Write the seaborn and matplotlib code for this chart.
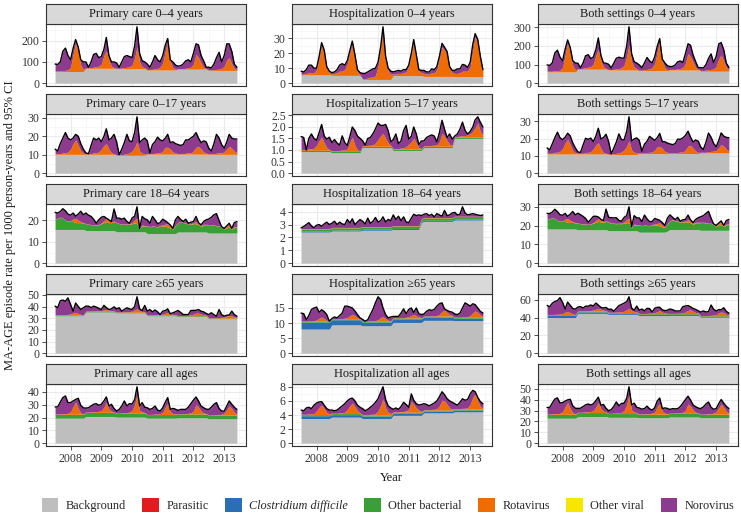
import numpy as np
import pandas as pd
import seaborn as sns
import matplotlib.pyplot as plt
import matplotlib.dates as mdates
from matplotlib.patches import Patch
from matplotlib.ticker import FixedLocator, MultipleLocator

# monthly rates, July 2007 - June 2013 (cumulative upper edge of each stacked band)
months = pd.date_range("2007-07-01", periods=72, freq="MS")

# --- Primary care 0-4
pc04_bg = [55,55,55,55,55,55,55,55,55,55,55,55, 70,70,70,70,70,70,70,70,70,70,70,70, 68,68,68,68,68,68,68,68,68,68,68,68,
           62,62,62,62,62,62,62,62,62,62,62,62, 66,66,66,66,66,66,66,66,66,66,66,66, 60,60,60,60,60,60,60,60,60,60,60,60]
pc04_ro = [60,58,58,60,60,63,75,135,190,155,85,65, 72,72,73,75,78,80,90,130,155,110,80,73, 70,70,71,73,75,78,85,120,170,100,78,72,
           64,64,65,68,70,75,95,150,200,100,75,65, 68,68,68,70,72,75,90,135,120,95,75,68, 62,62,63,65,66,68,80,110,120,90,70,63]
pc04_tot = [90,88,100,150,165,130,110,165,205,170,110,100, 100,75,100,135,140,120,125,160,215,130,100,100, 95,75,100,125,130,125,120,175,265,140,105,100,
            90,75,100,130,110,100,130,180,210,110,100,85, 80,82,90,105,110,100,140,185,180,130,105,75, 75,72,90,120,145,100,130,185,185,150,90,75]

# --- Hospitalization 0-4
h04_bg = [5.5,5.5,5.5,5.5,5.5,5.5,5.5,5.5,5.5,5.5,5.5,5.5, 5.2,5.2,5.2,5.2,5.2,5.2,5.2,5.2,5.2,5.2,5.2,5.2, 2.5,2.5,2.5,2.5,2.5,2.5,2.5,2.5,2.5,2.5,2.5,2.5,
          5,5,5,5,5,5,5,5,5,5,5,5, 4.5,4.5,4.5,4.5,4.5,4.5,4.5,4.5,4.5,4.5,4.5,4.5, 4.3,4.3,4.3,4.3,4.3,4.3,4.3,4.3,4.3,4.3,4.3,4.3]
h04_ro = [6,6,6.5,7,7,7,9,16,25,21,10,7, 6,6.5,7,8,8,9,13,20,26,17,8,5.5, 3,3,3.5,4,4,5,11,22,34,16,8,6,
          6,6,6.5,6.5,7,7.5,11,19,27,18,8,7, 6.5,6,6,7,7,9,16,24,22,19,10,7, 6.5,6.5,7,8,8,8,11,22,31,27,16,8]
h04_tot = [8,7.5,9,12,12,10,10,18,27,22,11,8, 7,7.5,9,12,13,12,15,22,28,19,9,7, 6.5,6.5,7.5,8.5,9.5,10,14,24,37.5,18,10,8,
           7.5,8,8.5,8,9,9,12,20,29,19,9,8.5, 8.5,7.5,7.5,9.5,9,11,18,26.5,24,21,11,8.5, 8.5,9.5,9.5,12.5,12,10.5,14,26,33,29,18,9]

# --- Both settings 0-4
b04_bg = [60.5,60.5,60.5,60.5,60.5,60.5,60.5,60.5,60.5,60.5,60.5,60.5, 75.2,75.2,75.2,75.2,75.2,75.2,75.2,75.2,75.2,75.2,75.2,75.2,
          70.5,70.5,70.5,70.5,70.5,70.5,70.5,70.5,70.5,70.5,70.5,70.5, 67,67,67,67,67,67,67,67,67,67,67,67,
          70.5,70.5,70.5,70.5,70.5,70.5,70.5,70.5,70.5,70.5,70.5,70.5, 64.3,64.3,64.3,64.3,64.3,64.3,64.3,64.3,64.3,64.3,64.3,64.3]
b04_ro = [66,64,64.5,67,67,70,84,151,215,176,95,72, 78,78.5,80,83,86,89,103,150,181,127,88,78.5, 73,73,74.5,77,79,83,96,142,204,116,86,78,
          70,70,71.5,74.5,77,82.5,106,169,227,118,83,72, 74.5,74,74,77,79,84,106,159,142,114,85,75, 68.5,68.5,70,73,74,76,91,132,151,117,86,71]
b04_tot = [98,95.5,109,162,177,140,120,183,232,192,121,108, 107,82.5,109,147,153,132,140,182,243,149,109,107,
           101.5,81.5,107.5,133.5,139.5,135,134,199,302.5,158,115,108, 97.5,83,108.5,138,119,109,142,200,239,129,109,93.5,
           88.5,89.5,97.5,114.5,119,111,158,211.5,204,151,116,83.5, 83.5,81.5,99.5,132.5,157,110.5,144,211,218,179,108,84]

# --- Primary care 0-17
pc017_bg = [10.2,10.2,10.2,10.2,10.2,10.2,10.2,10.2,10.2,10.2,10.2,10.2, 10.2,10.2,10.2,10.2,10.2,10.2,10.2,10.2,10.2,10.2,10.2,10.2,
            9.7,9.7,9.7,9.7,9.7,9.7,9.7,9.7,9.7,9.7,9.7,9.7, 10.3,10.3,10.3,10.3,10.3,10.3,10.3,10.3,10.3,10.3,10.3,10.3,
            10.3,10.3,10.3,10.3,10.3,10.3,10.3,10.3,10.3,10.3,10.3,10.3, 10.2,10.2,10.2,10.2,10.2,10.2,10.2,10.2,10.2,10.2,10.2,10.2]
pc017_ro = [10.5,10.5,10.5,11,11,11.5,13,16,18,15,12,10.8, 10.5,10.5,10.5,11,11,11.5,13,15,16,13,11,10.5, 10,10,10,10.3,10.5,11,12,14,17,12,10.8,10.5,
            10.5,10.5,10.5,10.8,11,11,12,14,14,13,11.5,11, 10.5,10.5,10.5,10.8,11,11,12,14,14.5,13,11.5,10.8, 10.5,10.5,10.5,10.8,11,11,11.5,13,14.5,13.5,12,11]
pc017_tot = [13,12,16,19,22,19,18,19,21,20,16,13, 11,10.5,15,19,18,19,17,20,24,18,19,21, 17,10,13,16.5,21,17.5,17,22,30.5,16.5,18,19,
             17.5,11,15.5,17,19.5,18,17.5,19,21,16.5,17,16, 15.5,15,15.5,18,18,19,20,22,19,16.5,17.5,17, 13.5,12,16,21,19,15.5,13.5,17,21,19,18.5,18.5]

# --- Hospitalization 5-17
h517_bg = [0.93,0.93,0.93,0.93,0.93,0.93,0.93,0.93,0.93,0.93,0.93,0.93, 0.88,0.88,0.88,0.88,0.88,0.88,0.88,0.88,0.88,0.88,0.88,0.88,
           1.1,1.1,1.1,1.1,1.1,1.1,1.1,1.1,1.1,1.1,1.1,1.1, 0.98,0.98,0.98,0.98,0.98,0.98,0.98,0.98,0.98,0.98,0.98,0.98,
           1.1,1.1,1.1,1.1,1.1,1.1,1.1,1.1,1.1,1.1,1.1,1.1, 1.5,1.5,1.5,1.5,1.5,1.5,1.5,1.5,1.5,1.5,1.5,1.5]
h517_ba = [0.99,0.99,0.99,0.99,0.99,0.99,0.99,0.99,0.99,0.99,0.99,0.99, 0.94,0.94,0.94,0.94,0.94,0.94,0.94,0.94,0.94,0.94,0.94,0.94,
           1.16,1.16,1.16,1.16,1.16,1.16,1.16,1.16,1.16,1.16,1.16,1.16, 1.04,1.04,1.04,1.04,1.04,1.04,1.04,1.04,1.04,1.04,1.04,1.04,
           1.16,1.16,1.16,1.16,1.16,1.16,1.16,1.16,1.16,1.16,1.16,1.16, 1.56,1.56,1.56,1.56,1.56,1.56,1.56,1.56,1.56,1.56,1.56,1.56]
h517_ro = [1.02,1.02,1.0,1.05,1.05,1.08,1.2,1.4,1.55,1.3,1.1,1.02, 0.96,0.96,0.96,0.98,1.0,1.0,1.05,1.35,1.55,1.2,1.0,0.97,
           1.18,1.18,1.2,1.2,1.22,1.3,1.45,1.6,1.72,1.5,1.3,1.2, 1.06,1.06,1.06,1.08,1.1,1.15,1.25,1.35,1.5,1.3,1.1,1.06,
           1.18,1.18,1.18,1.2,1.2,1.22,1.35,1.72,1.6,1.4,1.25,1.2, 1.58,1.58,1.6,1.62,1.62,1.65,1.7,1.8,1.95,2.16,1.8,1.65]
h517_tot = [1.58,1.54,1.0,1.5,1.69,1.5,1.42,1.75,2.1,1.6,1.47,1.55, 1.32,1.45,1.3,1.21,1.61,1.32,1.2,1.6,1.99,1.84,1.6,1.5,
            1.4,1.21,1.5,1.54,1.7,1.91,2.16,2.06,2.06,2.1,1.84,1.36, 1.45,1.69,1.27,1.39,1.84,2.06,1.47,1.6,1.99,1.69,1.24,1.39,
            1.39,1.54,1.6,1.65,1.6,1.35,1.75,2.28,1.9,1.54,1.69,1.47, 1.6,1.69,1.9,2.2,1.84,1.69,1.8,1.99,2.3,2.43,2.2,1.99]

# --- Both settings 5-17
b517_bg = [11.1,11.1,11.1,11.1,11.1,11.1,11.1,11.1,11.1,11.1,11.1,11.1, 11.1,11.1,11.1,11.1,11.1,11.1,11.1,11.1,11.1,11.1,11.1,11.1,
           10.8,10.8,10.8,10.8,10.8,10.8,10.8,10.8,10.8,10.8,10.8,10.8, 11.3,11.3,11.3,11.3,11.3,11.3,11.3,11.3,11.3,11.3,11.3,11.3,
           11.4,11.4,11.4,11.4,11.4,11.4,11.4,11.4,11.4,11.4,11.4,11.4, 11.7,11.7,11.7,11.7,11.7,11.7,11.7,11.7,11.7,11.7,11.7,11.7]
b517_ro = [11.5,11.5,11.5,12.1,12.1,12.6,14.2,17.4,19.6,16.3,13.1,11.8, 11.5,11.5,11.5,12.0,12.0,12.5,14.1,16.4,17.6,14.2,12.0,11.5,
           11.2,11.2,11.2,11.5,11.7,12.3,13.5,15.6,18.7,13.5,12.1,11.7, 11.6,11.6,11.6,11.9,12.1,12.2,13.3,15.4,15.5,14.3,12.6,12.1,
           11.7,11.7,11.7,12.0,12.2,12.2,13.4,15.7,16.1,14.4,12.8,12.0, 12.1,12.1,12.1,12.4,12.6,12.7,13.2,14.8,16.5,15.7,13.8,12.7]
b517_tot = [14.6,13.5,17.0,20.5,23.7,20.5,19.4,20.8,23.1,21.6,17.5,14.6, 12.3,12.0,16.3,20.2,19.6,20.3,18.2,21.6,26.0,19.8,20.6,22.5,
            18.4,11.2,14.5,18.0,22.7,19.4,19.2,24.1,32.6,18.6,19.8,20.4, 19.0,12.7,16.8,18.4,21.3,20.1,19.0,20.6,23.0,18.2,18.2,17.4,
            16.9,16.5,17.1,19.7,19.6,20.4,21.8,24.3,20.9,18.0,19.2,18.5, 15.1,13.7,17.9,23.2,20.8,17.2,15.3,19.0,23.3,21.4,20.7,20.5]

# --- Primary care 18-64
pc1864_bg = [15.8,15.8,15.8,15.8,15.8,15.8,15.8,15.8,15.8,15.8,15.8,15.8, 15.3,15.3,15.3,15.3,15.3,15.3,15.3,15.3,15.3,15.3,15.3,15.3,
             14.7,14.7,14.7,14.7,14.7,14.7,14.7,14.7,14.7,14.7,14.7,14.7, 13.9,13.9,13.9,13.9,13.9,13.9,13.9,13.9,13.9,13.9,13.9,13.9,
             14.6,14.6,14.6,14.6,14.6,14.6,14.6,14.6,14.6,14.6,14.6,14.6, 14.1,14.1,14.1,14.1,14.1,14.1,14.1,14.1,14.1,14.1,14.1,14.1]
pc1864_ba = [20.5,21,21.5,21,20,19.5,19.5,19.5,19,19,19,18.7, 18.5,18.2,18,18,17.8,18,18.5,19,19.5,19.0,19,19.5,
             19,18.5,18.3,18.2,18.3,18.2,18.5,18.8,18.5,16.2,17.5,17.4, 17.4,17,17.4,17.2,17,17.5,17.5,17.3,17,16.5,16,17.5,
             19,19.5,19,18.8,18.2,18.3,18.5,18.5,18,17.2,18,18, 18,18,17.8,17.5,17.5,16.8,16,16.5,17,15.8,16.8,17]
pc1864_ro = [20.6,21.1,21.6,21.1,20.1,19.7,19.9,20.7,21,20.2,19.4,18.9, 18.6,18.3,18.1,18.1,17.9,18.2,18.9,20,21.0,20.1,19.4,19.7,
             19.1,18.6,18.4,18.3,18.4,18.4,19,20.3,21,16.3,17.9,17.6, 17.5,17.1,17.5,17.3,17.1,17.7,17.9,18.3,18.5,17.5,16.2,17.7,
             19.1,19.6,19.1,18.9,18.3,18.5,18.9,19.5,18.9,17.8,18.2,18.2, 18.1,18.1,17.9,17.6,17.6,17,16.3,17.3,18.2,16.2,17.1,17.2]
pc1864_tot = [23.8,23.5,24.2,25.5,24.5,23,22.5,23.5,22,23,24.3,22.7, 23.5,22.5,21.9,20.6,18.7,20.3,21.5,21.9,21.1,20.3,19.5,25.4,
              21.1,21.1,20.6,21.1,19.5,18.7,21.1,22,26.4,16.3,21.9,20.8, 20.3,18.7,21.9,20.3,18.5,19,20.6,19.8,19,17.9,16.3,20.3,
              21.9,20.5,19.5,20.6,18.7,19.2,19.5,21.9,19,17.9,19.5,20.3, 20.7,21.5,22.7,23.2,20,17.1,16.3,17.5,18.7,16.3,19,19.5]

# --- Hospitalization 18-64
h1864_bg = [2.42,2.42,2.42,2.42,2.42,2.42,2.42,2.42,2.42,2.42,2.42,2.42, 2.5,2.5,2.5,2.5,2.5,2.5,2.5,2.5,2.5,2.5,2.5,2.5,
            2.56,2.56,2.56,2.56,2.56,2.56,2.56,2.56,2.56,2.56,2.56,2.56, 2.62,2.62,2.62,2.62,2.62,2.62,2.62,2.62,2.62,2.62,2.62,3.15,
            3.25,3.25,3.25,3.25,3.25,3.25,3.25,3.25,3.25,3.25,3.25,3.25, 3.35,3.35,3.35,3.35,3.35,3.35,3.35,3.35,3.35,3.35,3.35,3.35]
h1864_cd = [2.5,2.5,2.5,2.5,2.5,2.5,2.5,2.5,2.5,2.5,2.5,2.5, 2.58,2.58,2.58,2.58,2.58,2.58,2.58,2.58,2.58,2.58,2.58,2.58,
            2.64,2.64,2.64,2.64,2.64,2.64,2.64,2.64,2.64,2.64,2.64,2.64, 2.7,2.7,2.7,2.7,2.7,2.7,2.7,2.7,2.7,2.7,2.7,3.23,
            3.33,3.33,3.33,3.33,3.33,3.33,3.33,3.33,3.33,3.33,3.33,3.33, 3.43,3.43,3.43,3.43,3.43,3.43,3.43,3.43,3.43,3.43,3.43,3.43]
h1864_ba = [2.65,2.65,2.65,2.65,2.65,2.65,2.65,2.65,2.65,2.65,2.65,2.65, 2.75,2.75,2.75,2.75,2.75,2.75,2.75,2.75,2.75,2.75,2.75,2.75,
            2.82,2.82,2.82,2.82,2.82,2.82,2.82,2.82,2.82,2.82,2.82,2.82, 2.88,2.88,2.88,2.88,2.88,2.88,2.88,2.88,2.88,2.88,2.88,3.42,
            3.52,3.52,3.52,3.52,3.52,3.52,3.52,3.52,3.52,3.52,3.52,3.52, 3.62,3.62,3.62,3.62,3.62,3.62,3.62,3.62,3.62,3.62,3.62,3.62]
h1864_ro = [2.68,2.68,2.68,2.68,2.68,2.68,2.68,2.68,2.68,2.68,2.68,2.68, 2.78,2.78,2.78,2.78,2.78,2.78,2.78,2.78,2.78,2.78,2.78,2.78,
            2.85,2.85,2.85,2.85,2.85,2.85,2.85,2.85,2.85,2.85,2.85,2.85, 2.91,2.91,2.91,2.91,2.91,2.91,2.91,2.91,2.91,2.91,2.91,3.45,
            3.55,3.55,3.55,3.55,3.55,3.55,3.55,3.55,3.55,3.55,3.55,3.55, 3.65,3.65,3.65,3.65,3.65,3.65,3.65,3.65,3.65,3.65,3.65,3.65]
h1864_tot = [2.74,2.85,3.0,3.15,2.9,2.75,2.95,3.0,2.87,3.05,3.19,3.0, 3.1,3.26,3.0,3.19,3.05,3.0,3.39,3.13,3.45,3.0,3.2,3.39,
             3.26,3.05,3.5,3.1,3.25,3.55,3.2,3.3,3.6,3.2,3.4,3.3, 3.75,3.4,3.65,3.3,3.6,3.2,3.15,3.5,3.8,3.7,3.75,3.7,
             3.8,3.85,3.7,3.8,3.6,3.85,3.75,3.65,4.1,3.7,3.75,3.9, 3.95,3.75,3.8,4.38,3.9,3.75,3.8,3.85,3.8,3.75,3.7,3.75]

# --- Both settings 18-64
b1864_bg = [18.2,18.2,18.2,18.2,18.2,18.2,18.2,18.2,18.2,18.2,18.2,18.2, 17.8,17.8,17.8,17.8,17.8,17.8,17.8,17.8,17.8,17.8,17.8,17.8,
            17.3,17.3,17.3,17.3,17.3,17.3,17.3,17.3,17.3,17.3,17.3,17.3, 16.5,16.5,16.5,16.5,16.5,16.5,16.5,16.5,16.5,16.5,16.5,17.1,
            17.9,17.9,17.9,17.9,17.9,17.9,17.9,17.9,17.9,17.9,17.9,17.9, 17.5,17.5,17.5,17.5,17.5,17.5,17.5,17.5,17.5,17.5,17.5,17.5]
b1864_ba = [23.2,23.7,24.2,23.7,22.7,22.2,22.2,22.2,21.7,21.7,21.7,21.4, 21.3,21.0,20.8,20.8,20.6,20.8,21.3,21.8,22.3,21.8,21.8,22.3,
            21.8,21.3,21.1,21.0,21.1,21.0,21.3,21.6,21.3,19.0,20.3,20.2, 20.3,19.9,20.3,20.1,19.9,20.4,20.4,20.2,19.9,19.4,18.9,20.9,
            22.5,23.0,22.5,22.3,21.7,21.8,22.0,22.0,21.5,20.7,21.5,21.5, 21.6,21.6,21.4,21.1,21.1,20.4,19.6,20.1,20.6,19.4,20.4,20.6]
b1864_ro = [23.3,23.8,24.3,23.8,22.8,22.4,22.6,23.4,23.7,22.9,22.1,21.6, 21.4,21.1,20.9,20.9,20.7,21.0,21.7,22.8,23.8,22.9,22.2,22.5,
            22.0,21.5,21.3,21.2,21.3,21.3,21.9,23.2,23.9,19.2,20.8,20.5, 20.4,20.0,20.4,20.2,20.0,20.6,20.8,21.2,21.4,20.4,19.1,21.2,
            22.7,23.2,22.7,22.5,21.9,22.1,22.5,23.1,22.5,21.4,21.8,21.8, 21.8,21.8,21.6,21.3,21.3,20.7,20.0,21.0,21.9,19.9,20.8,20.9]
b1864_tot = [26.5,26.4,27.2,28.7,27.4,25.8,25.5,26.5,24.9,26.1,27.5,25.7, 26.6,25.8,24.9,23.8,21.8,23.3,24.9,25.0,24.6,23.3,22.7,28.8,
             24.4,24.2,24.1,24.2,22.8,22.3,24.3,25.3,30.0,19.5,25.3,24.1, 24.1,22.1,25.6,23.6,22.1,22.2,23.8,23.3,22.8,21.6,20.1,24.0,
             25.7,24.4,23.2,24.4,22.3,23.1,23.3,25.6,23.1,21.6,23.3,24.2, 24.7,25.3,26.5,27.6,23.9,20.9,20.1,21.4,22.5,20.1,22.7,23.3]

# --- Primary care >=65
pc65_bg = [32,32,32,32,32,32,32,32,32,32,32,32, 35.3,35.3,35.3,35.3,35.3,35.3,35.3,35.3,35.3,35.3,35.3,35.3,
           34.5,34.5,34.5,34.5,34.5,34.5,34.5,34.5,34.5,34.5,34.5,34.5, 32,32,32,32,32,32,32,32,32,32,32,32,
           31.5,31.5,31.5,31.5,31.5,31.5,31.5,31.5,31.5,31.5,31.5,31.5, 29.5,29.5,29.5,29.5,29.5,29.5,29.5,29.5,29.5,29.5,29.5,29.5]
pc65_ba = [32.6,32.6,32.6,32.6,32.6,32.6,32.6,32.6,32.6,32.6,32.6,32.6, 35.9,35.9,35.9,35.9,35.9,35.9,35.9,35.9,35.9,35.9,35.9,35.9,
           35.1,35.1,35.1,35.1,35.1,35.1,35.1,35.1,35.1,35.1,35.1,35.1, 32.6,32.6,32.6,32.6,32.6,32.6,32.6,32.6,32.6,32.6,32.6,32.6,
           32.1,32.1,32.1,32.1,32.1,32.1,32.1,32.1,32.1,32.1,32.1,32.1, 30.1,30.1,30.1,30.1,30.1,30.1,30.1,30.1,30.1,30.1,30.1,30.1]
pc65_ro = [32.8,32.8,32.8,32.9,33,33.2,33.6,34.5,35,34,33.2,32.9, 36.1,36.1,36.1,36.2,36.3,36.4,36.6,37,37.5,37,36.4,36.2,
           35.3,35.3,35.3,35.4,35.5,35.6,36,37,38,36.5,35.8,35.5, 32.8,32.8,32.8,32.9,33,33.1,33.4,34.2,35,33.6,33.2,32.9,
           32.3,32.3,32.3,32.4,32.5,32.7,33.5,34.3,34.3,33.5,32.8,32.5, 30.3,30.3,30.3,30.4,30.5,30.7,31,31.8,32.3,32,31,30.6]
pc65_tot = [40.3,39,45,45.5,44.5,47.4,41.7,36,43,40,37.4,38.9, 40.3,40.3,39,40.3,39.5,38.5,37.4,41,39,37.4,38,39.7,
            38,38.9,36,37.5,38.9,38,37.5,40,48.3,38,36.5,40.9, 36,37.4,35.4,37,35.4,33.1,36,36.5,38,33.7,34.6,35.5,
            36.6,35,33.1,33.1,33.1,36.6,36.6,36.8,37.4,36,35.4,34, 33.1,34.6,33,31.7,37.4,33.1,31.7,32.6,32.6,36,33.1,31.7]

# --- Hospitalization >=65
h65_bg = [8,8,8,8,8,8,8,8,8,8,8,8, 9.4,9.4,9.4,9.4,9.4,9.4,9.4,9.4,9.4,9.4,9.4,9.4, 9.1,9.1,9.1,9.1,9.1,9.1,9.1,9.1,9.1,9.1,9.1,9.1,
          10.2,10.2,10.2,10.2,10.2,10.2,10.2,10.2,10.2,10.2,10.2,10.2, 10.9,10.9,10.9,10.9,10.9,10.9,10.9,10.9,10.9,10.9,10.9,10.9,
          10.8,10.8,10.8,10.8,10.8,10.8,10.8,10.8,10.8,10.8,10.8,10.8]
h65_cd = [10.3,10.3,10.3,10.3,10.3,10.3,10.3,10.3,10.3,10.3,10.3,10.3, 11.1,11.1,11.1,11.1,11.1,11.1,11.1,11.1,11.1,11.1,11.1,11.1,
          10.3,10.3,10.3,10.3,10.3,10.3,10.3,10.3,10.3,10.3,10.3,10.3, 11.4,11.4,11.4,11.4,11.4,11.4,11.4,11.4,11.4,11.4,11.4,11.4,
          12,12,12,12,12,12,12,12,12,12,12,12, 11.6,11.6,11.6,11.6,11.6,11.6,11.6,11.6,11.6,11.6,11.6,11.6]
h65_ba = [10.6,10.6,10.6,10.6,10.6,10.6,10.6,10.6,10.6,10.6,10.6,10.6, 11.4,11.4,11.4,11.4,11.4,11.4,11.4,11.4,11.4,11.4,11.4,11.4,
          10.6,10.6,10.6,10.6,10.6,10.6,10.6,10.6,10.6,10.6,10.6,10.6, 11.7,11.7,11.7,11.7,11.7,11.7,11.7,11.7,11.7,11.7,11.7,11.7,
          12.3,12.3,12.3,12.3,12.3,12.3,12.3,12.3,12.3,12.3,12.3,12.3, 11.9,11.9,11.9,11.9,11.9,11.9,11.9,11.9,11.9,11.9,11.9,11.9]
h65_ro = [10.65,10.65,10.65,10.7,10.7,10.8,11,11.6,12,11.4,10.9,10.6, 11.45,11.45,11.45,11.5,11.5,11.6,11.8,12.4,12.9,12.4,11.7,11.5,
          10.65,10.6,10.65,10.7,10.7,10.8,11.1,11.8,12.1,11.4,10.9,10.8, 11.75,11.75,11.75,11.8,11.8,11.9,12.1,12.5,12.8,12.4,12,11.8,
          12.35,12.35,12.35,12.4,12.4,12.5,12.9,13.8,14.3,13.5,12.8,12.5, 11.95,11.95,11.95,12,12,12.1,12.5,13.4,14,13.5,12.6,12.2]
h65_tot = [13.3,13.1,11.1,12.5,14.5,15,15.3,13.6,14.4,13.8,12.8,10.6, 11.5,12,11.7,12.5,13.3,15.6,15.6,15.3,15,14,12.8,11.7,
           11.2,10.6,11.1,12.8,14.5,16.7,18.7,17.8,15,12.8,11.7,12, 12.2,12.2,12.2,13.3,14.7,13.1,14.5,15,13.5,15,13.1,12.8,
           13,13.9,14.4,14.2,14.5,15.6,16.4,16.7,14.7,14.2,13.8,13.6, 13,12.8,13.3,15,16.7,16.2,15.6,16.4,16.1,15,13.9,13.3]

# --- Both settings >=65
b65_bg = [40,40,40,40,40,40,40,40,40,40,40,40, 44.7,44.7,44.7,44.7,44.7,44.7,44.7,44.7,44.7,44.7,44.7,44.7,
          43.6,43.6,43.6,43.6,43.6,43.6,43.6,43.6,43.6,43.6,43.6,43.6, 42.2,42.2,42.2,42.2,42.2,42.2,42.2,42.2,42.2,42.2,42.2,42.2,
          42.4,42.4,42.4,42.4,42.4,42.4,42.4,42.4,42.4,42.4,42.4,42.4, 40.3,40.3,40.3,40.3,40.3,40.3,40.3,40.3,40.3,40.3,40.3,40.3]
b65_cd = [42.3,42.3,42.3,42.3,42.3,42.3,42.3,42.3,42.3,42.3,42.3,42.3, 46.4,46.4,46.4,46.4,46.4,46.4,46.4,46.4,46.4,46.4,46.4,46.4,
          44.8,44.8,44.8,44.8,44.8,44.8,44.8,44.8,44.8,44.8,44.8,44.8, 43.4,43.4,43.4,43.4,43.4,43.4,43.4,43.4,43.4,43.4,43.4,43.4,
          43.5,43.5,43.5,43.5,43.5,43.5,43.5,43.5,43.5,43.5,43.5,43.5, 41.1,41.1,41.1,41.1,41.1,41.1,41.1,41.1,41.1,41.1,41.1,41.1]
b65_ba = [43.2,43.2,43.2,43.2,43.2,43.2,43.2,43.2,43.2,43.2,43.2,43.2, 47.3,47.3,47.3,47.3,47.3,47.3,47.3,47.3,47.3,47.3,47.3,47.3,
          45.7,45.7,45.7,45.7,45.7,45.7,45.7,45.7,45.7,45.7,45.7,45.7, 44.3,44.3,44.3,44.3,44.3,44.3,44.3,44.3,44.3,44.3,44.3,44.3,
          44.4,44.4,44.4,44.4,44.4,44.4,44.4,44.4,44.4,44.4,44.4,44.4, 42,42,42,42,42,42,42,42,42,42,42,42]
b65_ro = [43.5,43.5,43.5,43.6,43.7,44.0,44.6,46.1,47.0,45.4,44.1,43.5, 47.6,47.6,47.6,47.7,47.8,48.0,48.4,49.4,50.4,49.4,48.1,47.7,
          46.0,45.9,46.0,46.1,46.2,46.4,47.1,48.8,50.1,47.9,46.7,46.3, 44.6,44.6,44.6,44.7,44.8,45.0,45.5,46.7,47.8,46.0,45.2,44.7,
          44.7,44.7,44.7,44.8,44.9,45.2,46.4,48.1,48.6,47.0,45.6,45.0, 42.3,42.3,42.3,42.4,42.5,42.8,43.5,45.2,46.3,45.5,43.6,42.8]
b65_tot = [53.6,52.1,56.1,58.0,59.0,62.4,57.0,49.6,57.4,53.8,50.2,49.5, 51.8,52.3,50.7,52.8,52.8,54.1,53.0,56.3,54.0,51.4,50.8,51.4,
           49.2,49.5,47.1,50.3,53.4,54.7,56.2,57.8,63.3,50.8,48.2,52.9, 48.2,49.6,47.6,50.3,50.1,46.2,50.5,51.5,51.5,48.7,47.7,48.3,
           49.6,48.9,47.5,47.3,47.6,52.2,53.0,53.5,52.1,50.2,49.2,47.6, 46.1,47.4,46.3,46.7,54.1,49.3,47.3,49.0,48.7,51.0,47.0,45.0]

# --- Primary care all ages
pcall_bg = [19.5,19.5,19.5,19.5,19.5,19.5,19.5,19.5,19.5,19.5,19.5,19.5, 20.8,20.8,20.8,20.8,20.8,20.8,20.8,20.8,20.8,20.8,20.8,20.8,
            20.3,20.3,20.3,20.3,20.3,20.3,20.3,20.3,20.3,20.3,20.3,20.3, 19.5,19.5,19.5,19.5,19.5,19.5,19.5,19.5,19.5,19.5,19.5,19.5,
            19.8,19.8,19.8,19.8,19.8,19.8,19.8,19.8,19.8,19.8,19.8,19.8, 19,19,19,19,19,19,19,19,19,19,19,19]
pcall_ba = [22.5,22.5,22.5,22.5,22.5,22.5,22.5,22.5,22.5,22.5,22.5,22.5, 24,24,24,24,24,24,24,24,24,24,24,24,
            23.3,23.3,23.3,23.3,23.3,23.3,23.3,23.3,23.3,23.3,23.3,23.3, 22.3,22.3,22.3,22.3,22.3,22.3,22.3,22.3,22.3,22.3,22.3,22.3,
            22.8,22.8,22.8,22.8,22.8,22.8,22.8,22.8,22.8,22.8,22.8,22.8, 21.8,21.8,21.8,21.8,21.8,21.8,21.8,21.8,21.8,21.8,21.8,21.8]
pcall_ro = [22.7,22.7,22.8,23,23,23.3,24.5,28.5,32,27,23.5,22.9, 24.2,24.2,24.3,24.5,24.5,24.8,25.5,28,32,26.5,25,24.3,
            23.4,23.4,23.5,23.7,23.8,24.2,25.5,30,38,25.5,24.5,23.8, 22.4,22.4,22.5,22.6,22.7,23,24,28,31,24.5,23,22.7,
            22.9,22.9,23,23.1,23.2,23.6,25,30,28,25,23.5,23.1, 21.9,21.9,22,22.1,22.2,22.5,23.5,26,29,27,24,22.5]
pcall_tot = [28.2,28.3,32,35.5,36.8,31.6,31.6,32.9,34,35,29.5,27.5, 27.3,27.6,29,30.3,30.8,29.5,30.3,33,36,29,30.3,27,
             25,26.3,29,32.9,29,30.8,30.5,34,43.9,29,31.6,28, 27.6,26.3,27.1,28.9,25.8,25,27.6,32,35.5,26.3,27.1,26.5,
             25.5,26.3,26.3,26.3,28,30.8,33.5,36,32.9,28.9,27.6,26.5, 26.3,28,30.3,31.6,27,25,25,29,32.9,30.3,28,26.3]

# --- Hospitalization all ages
hall_bg = [3.5,3.5,3.5,3.5,3.5,3.5,3.5,3.5,3.5,3.5,3.5,3.5, 3.7,3.7,3.7,3.7,3.7,3.7,3.7,3.7,3.7,3.7,3.7,3.7,
           3.5,3.5,3.5,3.5,3.5,3.5,3.5,3.5,3.5,3.5,3.5,3.5, 3.95,3.95,3.95,3.95,3.95,3.95,3.95,3.95,3.95,3.95,3.95,3.95,
           4.3,4.3,4.3,4.3,4.3,4.3,4.3,4.3,4.3,4.3,4.3,4.3, 4.45,4.45,4.45,4.45,4.45,4.45,4.45,4.45,4.45,4.45,4.45,4.45]
hall_cd = [3.9,3.9,3.9,3.9,3.9,3.9,3.9,3.9,3.9,3.9,3.9,3.9, 4.05,4.05,4.05,4.05,4.05,4.05,4.05,4.05,4.05,4.05,4.05,4.05,
           3.85,3.85,3.85,3.85,3.85,3.85,3.85,3.85,3.85,3.85,3.85,3.85, 4.25,4.25,4.25,4.25,4.25,4.25,4.25,4.25,4.25,4.25,4.25,4.25,
           4.55,4.55,4.55,4.55,4.55,4.55,4.55,4.55,4.55,4.55,4.55,4.55, 4.7,4.7,4.7,4.7,4.7,4.7,4.7,4.7,4.7,4.7,4.7,4.7]
hall_ba = [4.05,4.05,4.05,4.05,4.05,4.05,4.05,4.05,4.05,4.05,4.05,4.05, 4.2,4.2,4.2,4.2,4.2,4.2,4.2,4.2,4.2,4.2,4.2,4.2,
           4,4,4,4,4,4,4,4,4,4,4,4, 4.4,4.4,4.4,4.4,4.4,4.4,4.4,4.4,4.4,4.4,4.4,4.4,
           4.7,4.7,4.7,4.7,4.7,4.7,4.7,4.7,4.7,4.7,4.7,4.7, 4.85,4.85,4.85,4.85,4.85,4.85,4.85,4.85,4.85,4.85,4.85,4.85]
hall_ro = [4.1,4.1,4.1,4.15,4.15,4.2,4.6,5.1,5.4,4.9,4.35,4.15, 4.25,4.25,4.25,4.3,4.3,4.4,4.8,5.3,5.7,5.2,4.6,4.3,
           4.05,4.05,4.05,4.1,4.1,4.2,4.6,5.3,6.3,5.0,4.4,4.2, 4.45,4.45,4.45,4.5,4.5,4.6,4.8,5.9,5.5,5.0,4.7,4.5,
           4.75,4.75,4.75,4.8,4.8,4.9,5.3,6.1,6.0,5.5,5.0,4.85, 4.9,4.9,4.9,4.95,4.95,5.05,5.5,6.5,7.0,6.0,5.2,5.0]
hall_tot = [4.7,4.6,5.0,5.1,4.9,5.4,5.7,5.85,5.9,5.4,4.9,4.7, 4.7,4.6,4.7,5.0,5.3,5.6,6.0,6.3,6.4,6.0,5.4,5.1,
            4.9,4.6,4.8,5.1,5.4,5.8,6.3,7.2,8.0,6.2,5.3,5.0, 4.8,5.0,4.8,5.2,5.8,5.5,5.1,7.0,6.1,5.6,5.4,5.5,
            5.6,5.5,5.3,5.5,5.7,6.0,6.6,7.3,6.9,6.3,6.0,5.8, 5.6,5.4,5.8,6.3,6.1,6.2,7.0,7.5,7.3,6.5,5.9,5.6]

# --- Both settings all ages
ball_bg = [23,23,23,23,23,23,23,23,23,23,23,23, 24.5,24.5,24.5,24.5,24.5,24.5,24.5,24.5,24.5,24.5,24.5,24.5,
           23.8,23.8,23.8,23.8,23.8,23.8,23.8,23.8,23.8,23.8,23.8,23.8, 23.5,23.5,23.5,23.5,23.5,23.5,23.5,23.5,23.5,23.5,23.5,23.5,
           24.1,24.1,24.1,24.1,24.1,24.1,24.1,24.1,24.1,24.1,24.1,24.1, 23.5,23.5,23.5,23.5,23.5,23.5,23.5,23.5,23.5,23.5,23.5,23.5]
ball_ba = [26.6,26.6,26.6,26.6,26.6,26.6,26.6,26.6,26.6,26.6,26.6,26.6, 28.2,28.2,28.2,28.2,28.2,28.2,28.2,28.2,28.2,28.2,28.2,28.2,
           27.3,27.3,27.3,27.3,27.3,27.3,27.3,27.3,27.3,27.3,27.3,27.3, 26.7,26.7,26.7,26.7,26.7,26.7,26.7,26.7,26.7,26.7,26.7,26.7,
           27.5,27.5,27.5,27.5,27.5,27.5,27.5,27.5,27.5,27.5,27.5,27.5, 26.7,26.7,26.7,26.7,26.7,26.7,26.7,26.7,26.7,26.7,26.7,26.7]
ball_ro = [26.8,26.8,26.9,27.2,27.2,27.5,29.1,33.6,37.4,31.9,27.9,27.1, 28.5,28.5,28.6,28.8,28.8,29.2,30.3,33.3,37.7,31.7,29.6,28.6,
           27.5,27.5,27.6,27.8,27.9,28.4,30.1,35.3,44.3,30.5,28.9,28.0, 26.9,26.9,27.0,27.1,27.2,27.6,28.8,33.9,36.5,29.5,27.7,27.2,
           27.7,27.7,27.8,27.9,28.0,28.5,30.3,36.1,34.0,30.5,28.5,28.0, 26.8,26.8,26.9,27.1,27.2,27.6,29.0,32.5,36.0,33.0,29.2,27.5]
ball_tot = [32.9,32.9,37.0,40.6,41.7,37.0,37.3,38.8,39.9,40.4,34.4,32.2, 32.0,32.2,33.7,35.3,36.1,35.1,36.3,39.3,42.4,35.0,35.7,32.1,
            29.9,30.9,33.8,38.0,34.4,36.6,36.8,41.2,51.9,35.2,36.9,33.0, 32.4,31.3,31.9,34.1,31.6,30.5,32.7,39.0,41.6,31.9,32.5,32.0,
            31.1,31.8,31.6,31.8,33.7,36.8,40.1,43.3,39.8,35.2,33.6,32.3, 31.9,33.4,36.1,37.9,33.1,31.2,32.0,36.5,40.2,36.8,33.9,31.9]

legend_labels = ["Background", "Parasitic", "Clostridium difficile", "Other bacterial",
                 "Rotavirus", "Other viral", "Norovirus"]
legend_colors = ["#BEBEBE", "#E41A1C", "#2A6EB4", "#3A9F35", "#EE6C00", "#F7E600", "#8E3A8E"]

# band key -> colour (stack order bottom to top)
band_colors = {"bg": "#BEBEBE", "cd": "#2A6EB4", "ba": "#3A9F35", "ro": "#EE6C00", "tot": "#8E3A8E"}

panels = [
    ("Primary care 0\u20134 years", dict(bg=pc04_bg, ro=pc04_ro, tot=pc04_tot), [0, 100, 200]),
    ("Hospitalization 0\u20134 years", dict(bg=h04_bg, ro=h04_ro, tot=h04_tot), [0, 10, 20, 30]),
    ("Both settings 0\u20134 years", dict(bg=b04_bg, ro=b04_ro, tot=b04_tot), [0, 100, 200, 300]),
    ("Primary care 0\u201317 years", dict(bg=pc017_bg, ro=pc017_ro, tot=pc017_tot), [0, 10, 20, 30]),
    ("Hospitalization 5\u201317 years", dict(bg=h517_bg, ba=h517_ba, ro=h517_ro, tot=h517_tot), [0, 0.5, 1, 1.5, 2, 2.5]),
    ("Both settings 5\u201317 years", dict(bg=b517_bg, ro=b517_ro, tot=b517_tot), [0, 10, 20, 30]),
    ("Primary care 18\u201364 years", dict(bg=pc1864_bg, ba=pc1864_ba, ro=pc1864_ro, tot=pc1864_tot), [0, 10, 20]),
    ("Hospitalization 18\u201364 years", dict(bg=h1864_bg, cd=h1864_cd, ba=h1864_ba, ro=h1864_ro, tot=h1864_tot), [0, 1, 2, 3, 4]),
    ("Both settings 18\u201364 years", dict(bg=b1864_bg, ba=b1864_ba, ro=b1864_ro, tot=b1864_tot), [0, 10, 20, 30]),
    ("Primary care \u226565 years", dict(bg=pc65_bg, ba=pc65_ba, ro=pc65_ro, tot=pc65_tot), [0, 10, 20, 30, 40, 50]),
    ("Hospitalization \u226565 years", dict(bg=h65_bg, cd=h65_cd, ba=h65_ba, ro=h65_ro, tot=h65_tot), [0, 5, 10, 15]),
    ("Both settings \u226565 years", dict(bg=b65_bg, cd=b65_cd, ba=b65_ba, ro=b65_ro, tot=b65_tot), [0, 20, 40, 60]),
    ("Primary care all ages", dict(bg=pcall_bg, ba=pcall_ba, ro=pcall_ro, tot=pcall_tot), [0, 10, 20, 30, 40]),
    ("Hospitalization all ages", dict(bg=hall_bg, cd=hall_cd, ba=hall_ba, ro=hall_ro, tot=hall_tot), [0, 2, 4, 6, 8]),
    ("Both settings all ages", dict(bg=ball_bg, ba=ball_ba, ro=ball_ro, tot=ball_tot), [0, 10, 20, 30, 40, 50]),
]

sns.set_theme(style="whitegrid")
plt.rcParams["font.family"] = ["Liberation Serif", "DejaVu Serif"]

W, H = 741, 522
fig = plt.figure(figsize=(W / 100, H / 100), dpi=100)

col_left = [46, 292, 538]
row_top = [24, 114, 204, 294, 384]
pw, ph, sh = 200, 62, 20
dark = "#333333"
span = months[-1] - months[0]
xlim = (months[0] - 0.05 * span, months[-1] + 0.05 * span)

for k, (title, edges, yticks) in enumerate(panels):
    r, c = divmod(k, 3)
    x0, y0 = col_left[c], row_top[r]
    ax = fig.add_axes([x0 / W, 1 - (y0 + ph) / H, pw / W, ph / H])
    strip = fig.add_axes([x0 / W, 1 - y0 / H, pw / W, sh / H])

    lower = np.zeros(len(months))
    for key, colr in band_colors.items():
        if key in edges:
            upper = np.array(edges[key], dtype=float)
            ax.fill_between(months, lower, upper, color=colr, lw=0, zorder=2)
            lower = upper
    sns.lineplot(x=months, y=edges["tot"], ax=ax, color="black", lw=1.0, zorder=3)

    top = max(edges["tot"])
    ax.set_ylim(-0.05 * top, 1.05 * top)
    ax.set_xlim(*xlim)
    ax.set_facecolor("white")
    ax.set_axisbelow(True)
    ax.yaxis.set_major_locator(FixedLocator(yticks))
    ax.yaxis.set_minor_locator(MultipleLocator((yticks[1] - yticks[0]) / 2))
    fmt = "{:.1f}" if any(float(t) != int(t) for t in yticks) else "{:.0f}"
    ax.set_yticklabels([fmt.format(t) for t in yticks])
    ax.xaxis.set_major_locator(mdates.YearLocator())
    ax.xaxis.set_minor_locator(mdates.MonthLocator(bymonth=7))
    ax.xaxis.set_major_formatter(mdates.DateFormatter("%Y"))
    ax.grid(which="major", color="#EBEBEB", lw=0.8)
    ax.grid(which="minor", color="#F2F2F2", lw=0.4)
    ax.tick_params(axis="y", which="major", left=True, length=3, width=0.6, color=dark,
                   labelsize=8.5, labelcolor=dark, pad=1.5)
    ax.tick_params(axis="x", which="major", bottom=(r == 4), length=3, width=0.6, color=dark,
                   labelsize=8.5, labelcolor=dark, labelbottom=(r == 4), pad=2)
    ax.tick_params(which="minor", length=0)
    ax.set_xlabel("")
    ax.set_ylabel("")
    for s in ax.spines.values():
        s.set_color(dark)
        s.set_linewidth(0.8)

    strip.set_facecolor("#D9D9D9")
    strip.set_xticks([])
    strip.set_yticks([])
    strip.grid(False)
    for s in strip.spines.values():
        s.set_color(dark)
        s.set_linewidth(0.8)
    strip.text(0.5, 0.5, title, ha="center", va="center", fontsize=8.8, color="#1A1A1A",
               transform=strip.transAxes)

fig.text(391 / W, 1 - 478 / H, "Year", ha="center", va="center", fontsize=9, color="#1A1A1A")
fig.text(10 / W, 1 - 225 / H, "MA-AGE episode rate per 1000 person-years and 95% CI",
         rotation=90, ha="center", va="center", fontsize=9, color="#1A1A1A")

handles = [Patch(facecolor=c, edgecolor="none") for c in legend_colors]
leg = fig.legend(handles, legend_labels, loc="center", bbox_to_anchor=(388 / W, 1 - 505 / H), ncol=7,
                 frameon=False, fontsize=8.8, handlelength=1.35, handleheight=1.35,
                 columnspacing=1.35, handletextpad=0.6)
leg.get_texts()[2].set_fontstyle("italic")

fig.savefig("out.png", dpi=100)
